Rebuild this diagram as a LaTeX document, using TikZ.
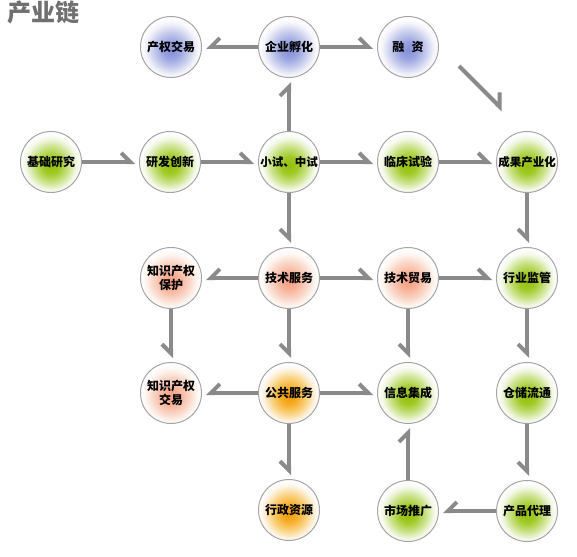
\documentclass[tikz,border=0pt]{standalone}
\usepackage{fontspec}
\newfontfamily\cjk{Noto Sans CJK SC}
\usetikzlibrary{arrows.meta}
\pgfdeclareradialshading{shgreen}{\pgfpoint{0bp}{-3bp}}{rgb(0bp)=(0.58,0.75,0.05); rgb(7bp)=(0.63,0.79,0.15); rgb(15bp)=(0.80,0.89,0.55); rgb(21bp)=(0.95,0.97,0.90); rgb(25bp)=(1,1,1); rgb(50bp)=(1,1,1)}
\pgfdeclareradialshading{shblue}{\pgfpoint{0bp}{-3bp}}{rgb(0bp)=(0.52,0.56,0.84); rgb(7bp)=(0.60,0.64,0.88); rgb(15bp)=(0.79,0.81,0.93); rgb(21bp)=(0.95,0.95,0.98); rgb(25bp)=(1,1,1); rgb(50bp)=(1,1,1)}
\pgfdeclareradialshading{shpeach}{\pgfpoint{0bp}{-3bp}}{rgb(0bp)=(0.96,0.62,0.50); rgb(7bp)=(0.97,0.70,0.60); rgb(15bp)=(0.98,0.84,0.78); rgb(21bp)=(0.99,0.96,0.94); rgb(25bp)=(1,1,1); rgb(50bp)=(1,1,1)}
\pgfdeclareradialshading{shorange}{\pgfpoint{0bp}{-3bp}}{rgb(0bp)=(0.96,0.60,0.03); rgb(7bp)=(0.97,0.68,0.16); rgb(15bp)=(0.98,0.83,0.52); rgb(21bp)=(0.99,0.95,0.88); rgb(25bp)=(1,1,1); rgb(50bp)=(1,1,1)}
\definecolor{linegray}{HTML}{8A8A8A}
\definecolor{ringgray}{HTML}{A5A5A5}
\definecolor{titlegray}{HTML}{707070}
\tikzset{
  ball/.style={circle, minimum size=61pt, inner sep=0pt, draw=ringgray, line width=1pt,
    font=\cjk\bfseries\fontsize{12}{14.5}\selectfont, align=center, text=black, shade},
  gball/.style={ball, shading=shgreen},
  bball/.style={ball, shading=shblue},
  pball/.style={ball, shading=shpeach},
  oball/.style={ball, shading=shorange},
  conn/.style={draw=linegray, line width=4pt, shorten >=4pt},
  bl/.style={conn, -{Straight Barb[left,length=9pt,width=18pt]}},
  br/.style={conn, -{Straight Barb[right,length=9pt,width=18pt]}}
}
\begin{document}
\begin{tikzpicture}[x=1pt,y=-1pt]
\fill[white] (0,0) rectangle (577,556);
\useasboundingbox (0,0) rectangle (577,556);
\node[anchor=west, inner sep=0pt, text=titlegray, font=\cjk\bfseries\fontsize{24}{26}\selectfont] (title) at (7,12.5) {产业链};
% row 1
\node[bball] (cqjy) at (171,47) {产权交易};
\node[bball] (qyfh) at (289,47) {企业孵化};
\node[bball] (rz) at (408,47) {融\hspace{0.6em}资};
% row 2
\node[gball] (jcyj) at (51,162) {基础研究};
\node[gball] (yfcx) at (170,162) {研发创新};
\node[gball] (xszs) at (289,162) {\fontsize{11.5}{13}\selectfont 小试、中试};
\node[gball] (lcsy) at (408,162) {临床试验};
\node[gball] (cgcyh) at (527,162) {\fontsize{11.5}{13}\selectfont 成果产业化};
% row 3
\node[pball] (zsbh) at (171,278) {知识产权\\保护};
\node[pball] (jsfw) at (289,278) {技术服务};
\node[pball] (jsmy) at (408,278) {技术贸易};
\node[gball] (hyjg) at (527,278) {行业监管};
% row 4
\node[pball] (zsjy) at (171,393) {知识产权\\交易};
\node[oball] (ggfw) at (289,393) {公共服务};
\node[gball] (xxjc) at (408,393) {信息集成};
\node[gball] (ccll) at (527,393) {仓储流通};
% row 5
\node[oball] (xzzy) at (289,510) {行政资源};
\node[gball] (sctg) at (408,511) {市场推广};
\node[gball] (cpdl) at (527,511) {产品代理};
% free diagonal arrow
\coordinate (d1) at (459,66);
\coordinate (d2) at (503,110);
% connectors
\draw[bl] (jcyj) -- (yfcx);
\draw[bl] (yfcx) -- (xszs);
\draw[bl] (xszs) -- (qyfh);
\draw[br] (qyfh) -- (cqjy);
\draw[bl] (qyfh) -- (rz);
\draw[conn, shorten >=0pt, -{Straight Barb[left,length=10pt,width=20pt]}] (d1) -- (d2);
\draw[bl] (xszs) -- (lcsy);
\draw[bl] (lcsy) -- (cgcyh);
\draw[br] (xszs) -- (jsfw);
\draw[br] (cgcyh) -- (hyjg);
\draw[br] (jsfw) -- (zsbh);
\draw[bl] (jsfw) -- (jsmy);
\draw[bl] (jsmy) -- (hyjg);
\draw[br] (zsbh) -- (zsjy);
\draw[br] (jsfw) -- (ggfw);
\draw[br] (jsmy) -- (xxjc);
\draw[br] (hyjg) -- (ccll);
\draw[br] (ggfw) -- (zsjy);
\draw[bl] (ggfw) -- (xxjc);
\draw[br] (ggfw) -- (xzzy);
\draw[br] (ccll) -- (cpdl);
\draw[br] (cpdl) -- (sctg);
\draw[bl] (sctg) -- (xxjc);
\end{tikzpicture}
\end{document}
